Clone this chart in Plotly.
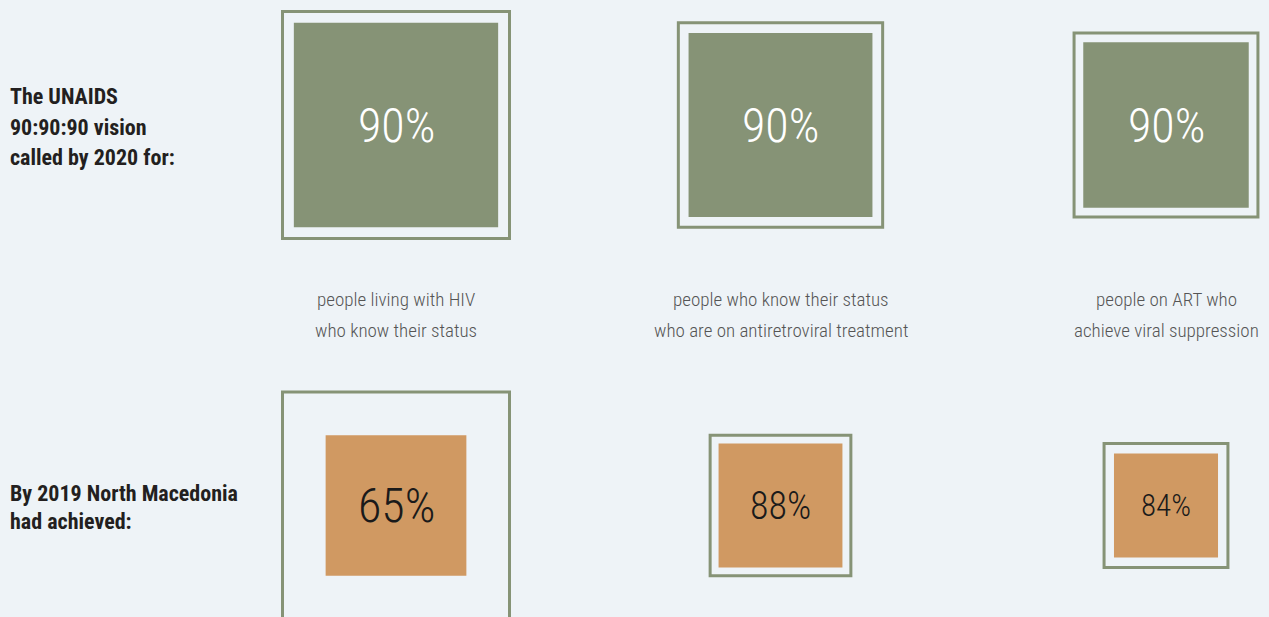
import plotly.graph_objects as go

# ---- data ----
stages = [
    ["people living with HIV", "who know their status"],
    ["people who know their status", "who are on antiretroviral treatment"],
    ["people on ART who", "achieve viral suppression"],
]
target_values = [90, 90, 90]          # % of previous stage (UNAIDS target)
target_labels = ["90%", "90%", "90%"]
achieved_values = [62, 88, 84]        # % of previous stage, as drawn
achieved_labels = ["65%", "88%", "84%"]
row_titles = [
    ["The UNAIDS", "90:90:90 vision", "called by 2020 for:"],
    ["By 2019 North Macedonia", "had achieved:"],
]

# ---- layout constants ----
W, H = 1269, 617
BG = "#EEF3F7"
GREEN = "#869376"
ORANGE = "#D09962"
FULL = 227                       # side of the 100 % square (axis units = px)
COL_X = [396, 780.5, 1166]
ROW_Y = [125, 505.5]
CAP_Y = [299, 330]

BOLD = "Roboto Condensed, Liberation Sans Narrow, DejaVu Sans Condensed, sans-serif"
LIGHT = "Roboto Condensed, Liberation Sans Narrow, Roboto, sans-serif"

fig = go.Figure()
shapes, annotations = [], []


def add_row(values, labels, row_y, fill, text_color, sizes):
    outer = FULL
    for i, (v, lab) in enumerate(zip(values, labels)):
        cx = COL_X[i]
        inner = outer * v / 100.0
        shapes.append(dict(type="rect", xref="x", yref="y",
                           x0=cx - outer / 2, x1=cx + outer / 2,
                           y0=row_y - outer / 2, y1=row_y + outer / 2,
                           line=dict(color=GREEN, width=3), fillcolor="rgba(0,0,0,0)",
                           layer="below"))
        shapes.append(dict(type="rect", xref="x", yref="y",
                           x0=cx - inner / 2, x1=cx + inner / 2,
                           y0=row_y - inner / 2, y1=row_y + inner / 2,
                           line=dict(width=0), fillcolor=fill, layer="below"))
        annotations.append(dict(x=cx, y=row_y, xref="x", yref="y", text=lab,
                                showarrow=False, xanchor="center", yanchor="middle",
                                font=dict(family=LIGHT, size=sizes[i], color=text_color, weight=300)))
        outer = inner


add_row(target_values, target_labels, ROW_Y[0], GREEN, "#FFFFFF", [48, 48, 48])
add_row(achieved_values, achieved_labels, ROW_Y[1], ORANGE, "#1A1A1A", [48, 38, 31])

for i, lines in enumerate(stages):
    for j, line in enumerate(lines):
        annotations.append(dict(x=COL_X[i], y=CAP_Y[j], xref="x", yref="y", text=line,
                                showarrow=False, xanchor="center", yanchor="middle",
                                font=dict(family=LIGHT, size=19, color="#555555", weight=300)))

title_y = [[96, 127, 157], [493, 521]]
for r, lines in enumerate(row_titles):
    for j, line in enumerate(lines):
        annotations.append(dict(x=8, y=title_y[r][j], xref="x", yref="y", text=line,
                                showarrow=False, xanchor="left", yanchor="middle",
                                font=dict(family=BOLD, size=22, color="#231F20", weight="bold")))

fig.update_layout(
    width=W, height=H,
    margin=dict(l=0, r=0, t=0, b=0),
    paper_bgcolor=BG, plot_bgcolor=BG,
    xaxis=dict(range=[0, W], visible=False, fixedrange=True),
    yaxis=dict(range=[H, 0], visible=False, fixedrange=True),
    shapes=shapes, annotations=annotations,
    showlegend=False,
)

fig.write_html("out.html", config={"displayModeBar": False},
               post_script="document.body.style.margin='0';document.body.style.background='" + BG + "';")
